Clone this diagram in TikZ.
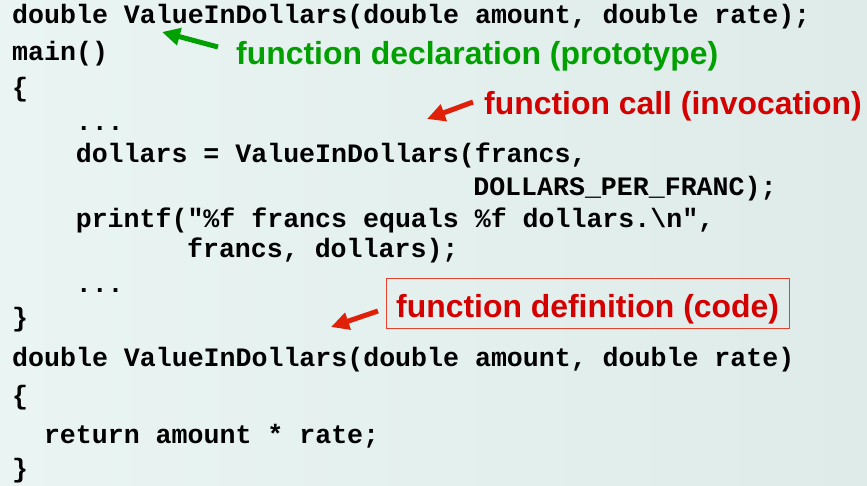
\documentclass[tikz,border=0pt]{standalone}
\usepackage{fontspec}
\setmainfont{Liberation Sans}
\setmonofont{Liberation Mono}
\usetikzlibrary{arrows.meta}
\definecolor{bgleft}{HTML}{EAF5F3}
\definecolor{bgright}{HTML}{DEEBE9}
\definecolor{declgreen}{HTML}{00A000}
\definecolor{callred}{HTML}{D40000}
\definecolor{arrowred}{HTML}{E02008}
\begin{document}
\begin{tikzpicture}[x=1pt,y=-1pt,
  code/.style={anchor=base west,inner sep=0pt,font=\fontsize{26.6}{30}\ttfamily\bfseries},
  note/.style={anchor=base west,inner sep=0pt,font=\fontsize{31.9}{36}\selectfont\bfseries},
  pointer/.style={line width=5pt,-{Triangle[length=18pt,width=17pt]}}]
\useasboundingbox (0,0) rectangle (867,486);
\shade[left color=bgleft,right color=bgright] (0,0) rectangle (867,486);

% code, one node per line, x = 12 + column*15.9
\node[code] (proto) at (12,24) {double ValueInDollars(double amount, double rate);};
\node[code] (mainl) at (12,61) {main()};
\node[code] (open1) at (12,97) {\{};
\node[code] (dots1) at (75.6,131) {...};
\node[code] (call1) at (75.6,163) {dollars = ValueInDollars(francs,};
\node[code] (call2) at (473.1,196) {DOLLARS\_PER\_FRANC);};
\node[code] (prnt1) at (75.6,228) {printf("\%f francs equals \%f dollars.\textbackslash n",};
\node[code] (prnt2) at (186.9,258) {francs, dollars);};
\node[code] (dots2) at (75.6,292) {...};
\node[code] (close1) at (12,326) {\}};
\node[code] (defn) at (12,366) {double ValueInDollars(double amount, double rate)};
\node[code] (open2) at (12,404) {\{};
\node[code] (ret) at (43.8,443) {return amount * rate;};
\node[code] (close2) at (12,477) {\}};

% labels
\node[note,text=declgreen] (decl) at (236,65) {function declaration (prototype)};
\node[note,text=callred] (invk) at (484,115) {function call (invocation)};
\node[note,text=callred] (defl) at (396,317) {function definition (code)};
\draw[arrowred!85!white,line width=1pt] (386,279) rectangle (789,328);

% arrows
\coordinate (declTail) at (218,47);
\coordinate (declTip) at (162,32);
\coordinate (invkTail) at (473,102);
\coordinate (invkTip) at (427,119);
\coordinate (deflTail) at (378,311);
\coordinate (deflTip) at (331,327);
\draw[pointer,declgreen] (declTail) -- (declTip);
\draw[pointer,arrowred] (invkTail) -- (invkTip);
\draw[pointer,arrowred] (deflTail) -- (deflTip);
\end{tikzpicture}
\end{document}
